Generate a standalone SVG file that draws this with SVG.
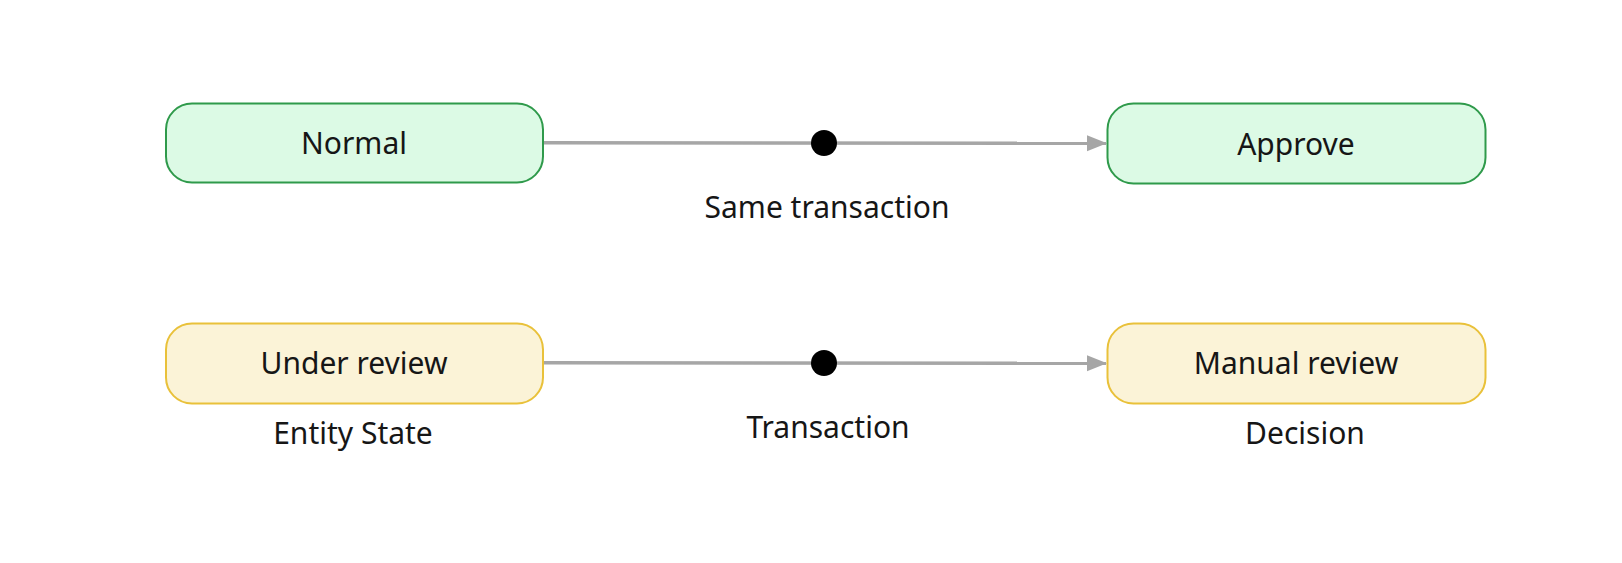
<svg xmlns="http://www.w3.org/2000/svg" width="1622" height="563" viewBox="0 0 1622 563">
<style>
  .green rect { fill: #dcfae5; stroke: #2f9a4b; stroke-width: 2; }
  .yellow rect { fill: #fbf3d7; stroke: #e9c13a; stroke-width: 2; }
  text { font-family: "Noto Sans", "Liberation Sans", sans-serif; font-size: 30px; fill: #161616; text-anchor: middle; }
  .edge { stroke: #a6a6a6; stroke-width: 3.5; fill: none; }
  .dot { fill: #000000; }
</style>
<defs>
  <marker id="arrow" markerUnits="userSpaceOnUse" markerWidth="21" markerHeight="17" refX="19" refY="8" orient="auto">
    <polygon points="0,0 20,8 0,16" fill="#a6a6a6"/>
  </marker>
</defs>
<rect width="1622" height="563" fill="#ffffff"/>
<g id="connectors">
  <g id="edge-normal-approve">
    <line class="edge" x1="544" y1="142.7" x2="1106" y2="143.3" marker-end="url(#arrow)"/>
    <circle class="dot" cx="824" cy="143" r="13"/>
    <text x="827" y="218">Same transaction</text>
  </g>
  <g id="edge-review-manual">
    <line class="edge" x1="544" y1="362.7" x2="1106" y2="363.3" marker-end="url(#arrow)"/>
    <circle class="dot" cx="824" cy="363" r="13"/>
    <text x="828" y="438">Transaction</text>
  </g>
</g>
<g id="node-normal" class="green">
  <rect x="166" y="103.5" width="377" height="79" rx="26"/>
  <text x="354" y="154">Normal</text>
</g>
<g id="node-approve" class="green">
  <rect x="1107.5" y="103.5" width="378" height="80" rx="26"/>
  <text x="1296" y="154.5">Approve</text>
</g>
<g id="node-under-review" class="yellow">
  <rect x="166" y="323.5" width="377" height="80" rx="26"/>
  <text x="354" y="374">Under review</text>
</g>
<g id="node-manual-review" class="yellow">
  <rect x="1107.5" y="323.5" width="378" height="80" rx="26"/>
  <text x="1296" y="374">Manual review</text>
</g>
<g id="column-labels">
  <text x="353" y="444">Entity State</text>
  <text x="1305" y="444">Decision</text>
</g>
</svg>
